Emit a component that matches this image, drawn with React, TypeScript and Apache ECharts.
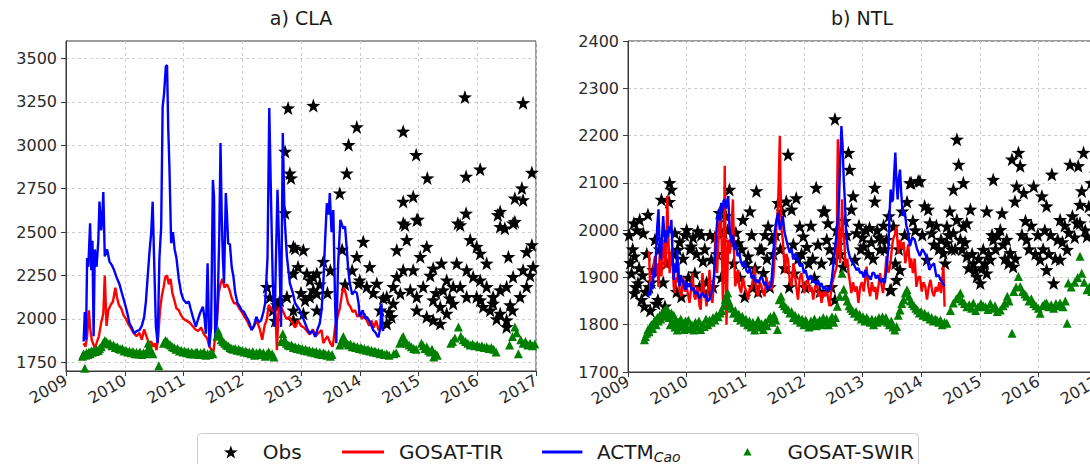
import React, { useEffect, useRef } from 'react';
import * as echarts from 'echarts';

const xTicks = [2009, 2010, 2011, 2012, 2013, 2014, 2015, 2016, 2017];
const claYTicks = [1750, 2000, 2250, 2500, 2750, 3000, 3250, 3500];
const ntlYTicks = [1700, 1800, 1900, 2000, 2100, 2200, 2300, 2400];
const panelTitles = ['a) CLA', 'b) NTL'];
const seriesNames = ['Obs', 'GOSAT-TIR', 'ACTM_Cao', 'GOSAT-SWIR'];

type P = [number, number];

const claObs: P[] = [
  [2012.42, 2185], [2012.47, 2125], [2012.52, 2050], [2012.56, 1990], [2012.59, 2080], [2012.64, 2108], [2012.73, 2964], [2012.73, 2610],
  [2012.76, 2127], [2012.78, 3214], [2012.81, 2839], [2012.83, 2811], [2012.87, 2416], [2012.87, 2262], [2012.87, 2050], [2012.87, 1993],
  [2012.9, 2406], [2012.95, 2300], [2013.0, 2150], [2013.04, 2397], [2013.04, 2031], [2013.07, 2108], [2013.1, 2262], [2013.15, 2127],
  [2013.15, 2223], [2013.21, 3228], [2013.21, 2243], [2013.21, 2166], [2013.27, 2262], [2013.27, 2146], [2013.27, 2050], [2013.32, 2200],
  [2013.38, 2330], [2013.45, 2150], [2013.5, 2280], [2013.66, 2724], [2013.7, 2400], [2013.75, 2200], [2013.78, 2839], [2013.81, 3003],
  [2013.87, 2280], [2013.95, 3105], [2013.95, 2358], [2013.98, 2204], [2014.0, 2223], [2014.06, 2445], [2014.12, 2185], [2014.17, 2300],
  [2014.23, 2150], [2014.29, 2204], [2014.35, 2050], [2014.4, 2120], [2014.46, 2127], [2014.46, 1973], [2014.5, 2040], [2014.54, 2012],
  [2014.57, 2185], [2014.57, 2089], [2014.63, 2397], [2014.63, 2243], [2014.69, 2146], [2014.74, 3080], [2014.74, 2676], [2014.74, 2551],
  [2014.74, 2281], [2014.77, 2541], [2014.8, 2455], [2014.86, 2166], [2014.91, 2705], [2014.91, 2281], [2014.96, 2945], [2014.97, 2570],
  [2014.99, 2573], [2014.97, 2127], [2014.97, 2050], [2015.03, 2358], [2015.08, 2185], [2015.14, 2416], [2015.14, 2012], [2015.15, 2811],
  [2015.2, 2250], [2015.25, 2291], [2015.25, 2108], [2015.25, 1993], [2015.3, 2150], [2015.37, 2070], [2015.37, 1973], [2015.39, 2320],
  [2015.42, 2166], [2015.48, 2223], [2015.48, 2031], [2015.53, 2120], [2015.59, 2185], [2015.59, 2089], [2015.65, 2320], [2015.67, 2551],
  [2015.71, 2541], [2015.71, 2185], [2015.79, 3277], [2015.81, 2820], [2015.81, 2608], [2015.82, 2281], [2015.82, 2127], [2015.88, 2455],
  [2015.93, 2243], [2015.99, 2416], [2015.99, 2127], [2016.05, 2862], [2016.05, 2377], [2016.05, 2223], [2016.05, 2108], [2016.1, 2070],
  [2016.16, 2320], [2016.16, 2185], [2016.22, 2050], [2016.27, 2089], [2016.27, 2127], [2016.33, 2000], [2016.35, 2599], [2016.39, 2618],
  [2016.39, 2531], [2016.39, 2166], [2016.39, 2031], [2016.47, 2522], [2016.5, 2185], [2016.5, 1993], [2016.5, 1954], [2016.53, 2358],
  [2016.56, 2080], [2016.6, 2050], [2016.61, 2551], [2016.61, 2243], [2016.64, 2695], [2016.64, 2560], [2016.73, 2127], [2016.76, 2753],
  [2016.78, 3244], [2016.78, 2685], [2016.78, 2281], [2016.84, 2387], [2016.84, 2185], [2016.9, 2250], [2016.93, 2843], [2016.93, 2426],
  [2016.95, 2300]
];

const claTir: P[] = [
  [2009.3, 1860], [2009.33, 1840], [2009.36, 1900], [2009.39, 2050], [2009.41, 1950], [2009.44, 1877], [2009.47, 1850], [2009.5, 1838],
  [2009.53, 1870], [2009.56, 1900], [2009.6, 1980], [2009.635, 2030], [2009.66, 2250], [2009.69, 1960], [2009.72, 2050], [2009.76, 2080],
  [2009.8, 2100], [2009.84, 2180], [2009.87, 2120], [2009.9, 2080], [2009.94, 2060], [2009.98, 2020], [2010.02, 2000], [2010.06, 1970],
  [2010.1, 1950], [2010.15, 1920], [2010.2, 1900], [2010.25, 1920], [2010.29, 1880], [2010.33, 1940], [2010.37, 1900], [2010.41, 1860],
  [2010.45, 1870], [2010.48, 1840], [2010.51, 1860], [2010.54, 1820], [2010.57, 1900], [2010.6, 2050], [2010.63, 2130], [2010.66, 2180],
  [2010.69, 2240], [2010.72, 2250], [2010.75, 2200], [2010.78, 2230], [2010.81, 2150], [2010.85, 2100], [2010.88, 2060], [2010.92, 2050],
  [2010.96, 2020], [2011.0, 2000], [2011.05, 1990], [2011.1, 1980], [2011.15, 1960], [2011.2, 1940], [2011.25, 1930], [2011.3, 1950],
  [2011.35, 1910], [2011.4, 1890], [2011.44, 1840], [2011.48, 1820], [2011.51, 1810], [2011.54, 1900], [2011.57, 2000], [2011.6, 2150],
  [2011.63, 2200], [2011.66, 2230], [2011.7, 2180], [2011.74, 2200], [2011.78, 2170], [2011.82, 2120], [2011.86, 2090], [2011.9, 2090],
  [2011.95, 2060], [2011.99, 2040], [2012.04, 2010], [2012.08, 1990], [2012.12, 1960], [2012.16, 1940], [2012.2, 1960], [2012.25, 1990],
  [2012.3, 1940], [2012.34, 1880], [2012.38, 1960], [2012.42, 2000], [2012.45, 2080], [2012.49, 2060], [2012.53, 2040], [2012.56, 2080],
  [2012.59, 1820], [2012.62, 2060], [2012.66, 2070], [2012.7, 2040], [2012.75, 2000], [2012.8, 2010], [2012.85, 1980], [2012.9, 1950],
  [2012.95, 1990], [2013.0, 1960], [2013.05, 1950], [2013.1, 1930], [2013.15, 1910], [2013.2, 1940], [2013.25, 1900], [2013.3, 1920],
  [2013.35, 1935], [2013.38, 1860], [2013.41, 1880], [2013.45, 1900], [2013.5, 1860], [2013.54, 1840], [2013.58, 1950], [2013.62, 2010],
  [2013.66, 2060], [2013.7, 2150], [2013.73, 2180], [2013.76, 2150], [2013.8, 2090], [2013.84, 2070], [2013.88, 2040], [2013.92, 2050],
  [2013.96, 2012], [2014.0, 2030], [2014.04, 2000], [2014.08, 2030], [2014.12, 1990], [2014.16, 1960], [2014.2, 1990], [2014.24, 1950],
  [2014.28, 1990], [2014.32, 1935], [2014.36, 1960], [2014.4, 1930]
];

const claActm: P[] = [
  [2009.3, 1870], [2009.32, 2040], [2009.34, 1880], [2009.36, 2350], [2009.38, 2300], [2009.41, 2550], [2009.43, 2280], [2009.45, 2450],
  [2009.47, 1900], [2009.49, 2400], [2009.52, 2300], [2009.55, 2450], [2009.57, 2675], [2009.6, 2510], [2009.62, 2600], [2009.635, 2730],
  [2009.66, 2360], [2009.7, 2400], [2009.74, 2330], [2009.78, 2310], [2009.82, 2280], [2009.86, 2240], [2009.91, 2200], [2009.95, 2150],
  [2010.0, 2090], [2010.04, 2040], [2010.08, 1975], [2010.12, 1950], [2010.16, 1915], [2010.2, 1930], [2010.25, 1935], [2010.29, 1960],
  [2010.33, 2010], [2010.36, 2100], [2010.39, 2240], [2010.42, 2380], [2010.45, 2495], [2010.475, 2675], [2010.5, 2340], [2010.53, 1955],
  [2010.56, 1860], [2010.59, 2350], [2010.62, 2530], [2010.645, 3220], [2010.67, 3300], [2010.7, 3455], [2010.72, 3460], [2010.74, 3100],
  [2010.76, 2880], [2010.79, 2435], [2010.82, 2500], [2010.85, 2400], [2010.88, 2350], [2010.92, 2230], [2010.96, 2150], [2011.0, 2110],
  [2011.05, 2090], [2011.09, 2100], [2011.12, 2060], [2011.16, 2010], [2011.21, 1955], [2011.25, 2000], [2011.28, 2032], [2011.33, 2070],
  [2011.36, 2000], [2011.38, 1915], [2011.41, 2320], [2011.44, 1840], [2011.47, 1950], [2011.5, 2800], [2011.52, 2700], [2011.54, 1877],
  [2011.57, 2000], [2011.59, 2206], [2011.61, 2500], [2011.63, 3012], [2011.65, 2600], [2011.67, 2353], [2011.69, 2206], [2011.72, 2724],
  [2011.74, 2600], [2011.76, 2435], [2011.79, 2430], [2011.82, 2300], [2011.85, 2243], [2011.88, 2150], [2011.92, 2090], [2011.96, 2070],
  [2011.99, 2050], [2012.03, 2040], [2012.07, 2012], [2012.11, 1990], [2012.16, 1935], [2012.2, 1960], [2012.24, 2012], [2012.28, 1980],
  [2012.32, 1990], [2012.36, 2040], [2012.39, 2090], [2012.43, 2353], [2012.46, 3214], [2012.49, 2685], [2012.52, 2206], [2012.55, 1954],
  [2012.57, 2300], [2012.6, 2743], [2012.63, 2400], [2012.66, 1954], [2012.69, 3070], [2012.72, 2589], [2012.76, 2358], [2012.81, 2206],
  [2012.86, 2150], [2012.9, 2090], [2012.94, 2070], [2012.98, 2050], [2013.03, 2010], [2013.07, 1975], [2013.11, 1940], [2013.15, 1917],
  [2013.2, 1930], [2013.24, 1897], [2013.28, 1940], [2013.32, 1975], [2013.35, 2050], [2013.38, 2206], [2013.41, 2450], [2013.44, 2666],
  [2013.47, 2600], [2013.49, 2724], [2013.52, 2500], [2013.55, 2627], [2013.58, 2100], [2013.6, 1860], [2013.63, 2300], [2013.67, 2570],
  [2013.7, 2540], [2013.72, 2520], [2013.75, 2531], [2013.78, 2400], [2013.8, 2300], [2013.83, 2206], [2013.87, 2140], [2013.91, 2160],
  [2013.95, 2150], [2013.98, 2090], [2014.0, 2012], [2014.05, 2050], [2014.09, 2000], [2014.12, 2012], [2014.16, 1990], [2014.2, 1960],
  [2014.23, 1935], [2014.27, 1920], [2014.3, 1900], [2014.32, 1896], [2014.35, 1950], [2014.37, 2089], [2014.39, 1950], [2014.4, 1930]
];

const claSwir: P[] = [
  [2009.28, 1785], [2009.3, 1800], [2009.32, 1716], [2009.33, 1790], [2009.35, 1805], [2009.37, 1795], [2009.39, 1810], [2009.41, 1800],
  [2009.43, 1815], [2009.45, 1808], [2009.47, 1820], [2009.5, 1812], [2009.52, 1825], [2009.55, 1818], [2009.57, 1830], [2009.6, 1840],
  [2009.63, 1860], [2009.66, 1875], [2009.69, 1868], [2009.72, 1855], [2009.75, 1860], [2009.78, 1845], [2009.81, 1850], [2009.84, 1835],
  [2009.87, 1840], [2009.9, 1830], [2009.93, 1825], [2009.96, 1830], [2009.99, 1815], [2010.02, 1820], [2010.05, 1810], [2010.08, 1815],
  [2010.11, 1805], [2010.14, 1812], [2010.17, 1800], [2010.2, 1808], [2010.23, 1798], [2010.26, 1810], [2010.29, 1795], [2010.32, 1805],
  [2010.35, 1800], [2010.38, 1815], [2010.4, 1860], [2010.42, 1840], [2010.45, 1810], [2010.48, 1800], [2010.58, 1730], [2010.66, 1860],
  [2010.69, 1875], [2010.72, 1870], [2010.75, 1855], [2010.78, 1850], [2010.81, 1840], [2010.84, 1835], [2010.87, 1825], [2010.9, 1830],
  [2010.93, 1815], [2010.96, 1820], [2010.99, 1810], [2011.02, 1815], [2011.05, 1805], [2011.08, 1812], [2011.11, 1800], [2011.14, 1810],
  [2011.17, 1798], [2011.2, 1805], [2011.23, 1810], [2011.26, 1795], [2011.29, 1805], [2011.32, 1800], [2011.35, 1810], [2011.38, 1790],
  [2011.41, 1800], [2011.44, 1795], [2011.47, 1805], [2011.5, 1800], [2011.57, 1900], [2011.59, 1930], [2011.61, 1910], [2011.64, 1880],
  [2011.67, 1870], [2011.7, 1860], [2011.73, 1850], [2011.76, 1845], [2011.79, 1835], [2011.82, 1830], [2011.85, 1825], [2011.88, 1830],
  [2011.91, 1820], [2011.94, 1825], [2011.97, 1815], [2012.0, 1820], [2012.03, 1810], [2012.06, 1815], [2012.09, 1805], [2012.12, 1810],
  [2012.15, 1800], [2012.18, 1812], [2012.21, 1790], [2012.24, 1805], [2012.27, 1800], [2012.3, 1810], [2012.33, 1795], [2012.36, 1805],
  [2012.39, 1785], [2012.42, 1800], [2012.45, 1810], [2012.48, 1790], [2012.51, 1800], [2012.54, 1780], [2012.66, 1870], [2012.69, 1915],
  [2012.72, 1880], [2012.75, 1860], [2012.78, 1850], [2012.81, 1845], [2012.84, 1850], [2012.87, 1835], [2012.9, 1840], [2012.93, 1830],
  [2012.96, 1835], [2012.99, 1825], [2013.02, 1830], [2013.05, 1820], [2013.08, 1825], [2013.11, 1815], [2013.14, 1820], [2013.17, 1810],
  [2013.2, 1815], [2013.23, 1805], [2013.26, 1812], [2013.29, 1800], [2013.32, 1808], [2013.35, 1795], [2013.38, 1805], [2013.41, 1800],
  [2013.44, 1790], [2013.47, 1800], [2013.5, 1785], [2013.53, 1795], [2013.66, 1850], [2013.7, 1880], [2013.72, 1898], [2013.75, 1870],
  [2013.78, 1860], [2013.81, 1850], [2013.84, 1855], [2013.87, 1840], [2013.9, 1845], [2013.93, 1835], [2013.96, 1840], [2013.99, 1830],
  [2014.02, 1835], [2014.05, 1825], [2014.08, 1830], [2014.11, 1820], [2014.14, 1825], [2014.17, 1815], [2014.2, 1820], [2014.23, 1810],
  [2014.26, 1815], [2014.29, 1805], [2014.32, 1810], [2014.35, 1800], [2014.38, 1805], [2014.42, 1795], [2014.46, 1800], [2014.5, 1790],
  [2014.58, 1800], [2014.62, 1805], [2014.68, 1860], [2014.72, 1890], [2014.74, 1898], [2014.77, 1870], [2014.8, 1860], [2014.84, 1850],
  [2014.88, 1840], [2014.92, 1830], [2014.96, 1825], [2015.05, 1860], [2015.08, 1845], [2015.11, 1830], [2015.14, 1840], [2015.17, 1820],
  [2015.2, 1810], [2015.23, 1825], [2015.26, 1780], [2015.29, 1800], [2015.32, 1790], [2015.55, 1860], [2015.58, 1870], [2015.62, 1890],
  [2015.68, 1953], [2015.72, 1900], [2015.76, 1880], [2015.8, 1870], [2015.84, 1860], [2015.88, 1850], [2015.92, 1855], [2015.96, 1845],
  [2016.0, 1850], [2016.04, 1840], [2016.08, 1845], [2016.12, 1835], [2016.16, 1840], [2016.2, 1830], [2016.24, 1835], [2016.28, 1825],
  [2016.32, 1810], [2016.55, 1850], [2016.6, 1898], [2016.64, 1953], [2016.67, 1920], [2016.7, 1800], [2016.74, 1880], [2016.78, 1860],
  [2016.82, 1870], [2016.86, 1850], [2016.9, 1860], [2016.94, 1845], [2016.98, 1855]
];

const ntlObs: P[] = [
  [2009.02, 1990], [2009.04, 1931], [2009.06, 1909], [2009.08, 1960], [2009.1, 2015], [2009.11, 1945], [2009.11, 1867], [2009.13, 1880],
  [2009.15, 2000], [2009.17, 1888], [2009.19, 1920], [2009.2, 2022], [2009.23, 1853], [2009.25, 1905], [2009.26, 1994], [2009.28, 1839],
  [2009.3, 1870], [2009.32, 1950], [2009.34, 2033], [2009.36, 1880], [2009.38, 1830], [2009.4, 1890], [2009.43, 1916], [2009.46, 1980],
  [2009.48, 1845], [2009.51, 1853], [2009.54, 1960], [2009.57, 2065], [2009.6, 1890], [2009.63, 1839], [2009.66, 1930], [2009.7, 2060],
  [2009.71, 2100], [2009.74, 2086], [2009.77, 1950], [2009.8, 1994], [2009.83, 1870], [2009.85, 1959], [2009.88, 1975], [2009.91, 1860],
  [2009.94, 1940], [2009.97, 1990], [2010.0, 2001], [2010.03, 1900], [2010.06, 1960], [2010.08, 1966], [2010.11, 1985], [2010.14, 1909],
  [2010.17, 1950], [2010.19, 1998], [2010.22, 1880], [2010.25, 1990], [2010.28, 1935], [2010.31, 1960], [2010.34, 1890], [2010.37, 1870],
  [2010.4, 1990], [2010.42, 1938], [2010.45, 1880], [2010.48, 1985], [2010.52, 1950], [2010.56, 2037], [2010.59, 1900], [2010.63, 1995],
  [2010.67, 2030], [2010.7, 2000], [2010.73, 2086], [2010.76, 1975], [2010.8, 1930], [2010.84, 1995], [2010.88, 1973], [2010.91, 1900],
  [2010.94, 1960], [2010.96, 2022], [2010.99, 1860], [2011.02, 1930], [2011.05, 1945], [2011.08, 2040], [2011.11, 1990], [2011.14, 1880],
  [2011.17, 1920], [2011.19, 2083], [2011.22, 1870], [2011.25, 1960], [2011.28, 1959], [2011.31, 1910], [2011.34, 1990], [2011.37, 1940],
  [2011.39, 2008], [2011.42, 1880], [2011.45, 1980], [2011.48, 1950], [2011.52, 1990], [2011.56, 2058], [2011.6, 1960], [2011.63, 2040],
  [2011.67, 1920], [2011.7, 2061], [2011.73, 2160], [2011.75, 1880], [2011.79, 2044], [2011.82, 1970], [2011.84, 1909], [2011.87, 2068],
  [2011.9, 1940], [2011.93, 2008], [2011.96, 1950], [2011.99, 1987], [2012.02, 1880], [2012.05, 1965], [2012.08, 1930], [2012.12, 2010],
  [2012.15, 1940], [2012.18, 1900], [2012.21, 2090], [2012.24, 1970], [2012.27, 1870], [2012.3, 1930], [2012.33, 2040], [2012.36, 2040],
  [2012.39, 1980], [2012.41, 2015], [2012.44, 1960], [2012.47, 1880], [2012.5, 1938], [2012.53, 1853], [2012.53, 2235], [2012.56, 2000],
  [2012.59, 1970], [2012.62, 1950], [2012.67, 1923], [2012.7, 2020], [2012.73, 1990], [2012.76, 2164], [2012.78, 2128], [2012.81, 2044],
  [2012.84, 2072], [2012.87, 1938], [2012.9, 1994], [2012.94, 2010], [2012.97, 1960], [2013.0, 1985], [2013.02, 1966], [2013.06, 2000],
  [2013.1, 1950], [2013.12, 2005], [2013.15, 1975], [2013.18, 1940], [2013.21, 2090], [2013.21, 2061], [2013.25, 2000], [2013.28, 1985],
  [2013.3, 1959], [2013.32, 1980], [2013.36, 2010], [2013.38, 1960], [2013.41, 1980], [2013.45, 2030], [2013.47, 1874], [2013.49, 1874],
  [2013.53, 2008], [2013.56, 1930], [2013.58, 1895], [2013.62, 1960], [2013.64, 1916], [2013.68, 2040], [2013.72, 1990], [2013.76, 2060],
  [2013.81, 2100], [2013.83, 2100], [2013.86, 2020], [2013.9, 2000], [2013.95, 2104], [2013.98, 2104], [2014.02, 1990], [2014.06, 2051],
  [2014.1, 1938], [2014.12, 2044], [2014.15, 2015], [2014.18, 1994], [2014.22, 1970], [2014.26, 2010], [2014.3, 1960], [2014.34, 1980],
  [2014.38, 1952], [2014.41, 1930], [2014.44, 1973], [2014.44, 2008], [2014.47, 1990], [2014.49, 2040], [2014.52, 1960], [2014.55, 2086],
  [2014.55, 1994], [2014.58, 1960], [2014.61, 2192], [2014.61, 2022], [2014.64, 2139], [2014.67, 1980], [2014.7, 1960], [2014.72, 2100],
  [2014.72, 2008], [2014.75, 1975], [2014.78, 2015], [2014.78, 1945], [2014.81, 1920], [2014.84, 2044], [2014.87, 1950], [2014.89, 1930],
  [2014.92, 1915], [2014.95, 1902], [2014.98, 1940], [2015.01, 1888], [2015.04, 1920], [2015.06, 1959], [2015.09, 1930], [2015.12, 2040],
  [2015.12, 1909], [2015.15, 1950], [2015.18, 1938], [2015.21, 1990], [2015.23, 2107], [2015.23, 1980], [2015.27, 1960], [2015.3, 1990],
  [2015.35, 2001], [2015.38, 2036], [2015.4, 1970], [2015.43, 1940], [2015.46, 1980], [2015.49, 1930], [2015.52, 1952], [2015.55, 2150],
  [2015.57, 1923], [2015.6, 2061], [2015.61, 1940], [2015.63, 2093], [2015.66, 2164], [2015.69, 2136], [2015.72, 1990], [2015.75, 2079],
  [2015.78, 2020], [2015.8, 1980], [2015.84, 1960], [2015.88, 2010], [2015.92, 2093], [2015.95, 1950], [2015.99, 1990], [2016.03, 1938],
  [2016.06, 2072], [2016.08, 1960], [2016.11, 2000], [2016.14, 2051], [2016.14, 1916], [2016.18, 1950], [2016.21, 1990], [2016.23, 2118],
  [2016.26, 1888], [2016.29, 1940], [2016.33, 1980], [2016.37, 2022], [2016.37, 1938], [2016.41, 1975], [2016.45, 2010], [2016.49, 1959],
  [2016.52, 1995], [2016.54, 2139], [2016.58, 2030], [2016.62, 1985], [2016.66, 2015], [2016.68, 2136], [2016.71, 2054], [2016.71, 2015],
  [2016.74, 2083], [2016.77, 2164], [2016.8, 2000], [2016.83, 1987], [2016.86, 2050], [2016.9, 2100], [2016.94, 2030], [2016.98, 2120]
];

const ntlTir: P[] = [
  [2009.34, 1955], [2009.36, 1952], [2009.38, 1867], [2009.4, 1900], [2009.42, 1880], [2009.44, 1930], [2009.46, 1945], [2009.48, 1909],
  [2009.5, 1930], [2009.52, 1880], [2009.54, 1950], [2009.57, 1902], [2009.6, 1960], [2009.62, 1980], [2009.64, 1920], [2009.66, 2000],
  [2009.67, 2072], [2009.69, 1980], [2009.71, 1909], [2009.73, 1940], [2009.75, 1960], [2009.78, 1880], [2009.8, 1867], [2009.82, 1900],
  [2009.84, 1890], [2009.86, 1930], [2009.88, 1870], [2009.91, 1860], [2009.94, 1900], [2009.97, 1870], [2010.0, 1880], [2010.03, 1860],
  [2010.05, 1846], [2010.08, 1880], [2010.1, 1909], [2010.13, 1860], [2010.15, 1853], [2010.18, 1880], [2010.2, 1870], [2010.22, 1840],
  [2010.24, 1832], [2010.27, 1909], [2010.3, 1870], [2010.32, 1860], [2010.34, 1839], [2010.37, 1880], [2010.39, 1916], [2010.42, 1860],
  [2010.44, 1846], [2010.47, 1900], [2010.49, 1994], [2010.52, 1909], [2010.55, 2000], [2010.58, 2051], [2010.6, 1960], [2010.62, 1839],
  [2010.64, 2000], [2010.65, 2136], [2010.67, 1900], [2010.68, 1800], [2010.7, 1930], [2010.71, 1980], [2010.73, 1950], [2010.75, 1960],
  [2010.77, 2020], [2010.79, 2065], [2010.81, 1950], [2010.83, 1881], [2010.86, 1910], [2010.88, 1916], [2010.9, 1880], [2010.93, 1867],
  [2010.96, 1900], [2010.99, 1880], [2011.02, 1870], [2011.05, 1853], [2011.08, 1880], [2011.1, 1874], [2011.13, 1895], [2011.16, 1923],
  [2011.19, 1870], [2011.22, 1860], [2011.25, 1890], [2011.28, 1880], [2011.3, 1870], [2011.33, 1860], [2011.36, 1900], [2011.39, 1880],
  [2011.42, 1890], [2011.45, 1874], [2011.48, 1900], [2011.5, 1945], [2011.52, 1980], [2011.54, 2022], [2011.56, 2050], [2011.58, 2150],
  [2011.59, 2199], [2011.6, 2100], [2011.62, 2000], [2011.64, 1980], [2011.66, 1940], [2011.68, 1909], [2011.7, 1950], [2011.73, 1938],
  [2011.76, 1890], [2011.79, 1881], [2011.82, 1930], [2011.84, 1916], [2011.87, 1880], [2011.9, 1853], [2011.93, 1900], [2011.96, 1909],
  [2011.99, 1880], [2012.01, 1867], [2012.04, 1890], [2012.07, 1895], [2012.1, 1870], [2012.13, 1880], [2012.16, 1853], [2012.19, 1880],
  [2012.22, 1888], [2012.25, 1860], [2012.28, 1870], [2012.3, 1846], [2012.33, 1870], [2012.36, 1860], [2012.39, 1875], [2012.42, 1850],
  [2012.44, 1839], [2012.47, 1880], [2012.5, 1895], [2012.53, 1910], [2012.56, 1923], [2012.57, 2100], [2012.58, 2192], [2012.6, 1960],
  [2012.62, 1930], [2012.64, 2000], [2012.65, 2065], [2012.67, 1990], [2012.69, 1980], [2012.71, 1923], [2012.74, 1940], [2012.76, 1910],
  [2012.78, 1895], [2012.81, 1867], [2012.84, 1890], [2012.87, 1870], [2012.9, 1881], [2012.93, 1846], [2012.96, 1880], [2012.99, 1890],
  [2013.02, 1870], [2013.05, 1900], [2013.07, 1923], [2013.1, 1880], [2013.13, 1860], [2013.16, 1890], [2013.19, 1870], [2013.22, 1880],
  [2013.24, 1853], [2013.27, 1880], [2013.3, 1909], [2013.33, 1880], [2013.35, 1867], [2013.38, 1900], [2013.41, 1945], [2013.44, 1910],
  [2013.47, 1923], [2013.5, 1960], [2013.52, 1980], [2013.55, 1990], [2013.58, 2008], [2013.61, 1950], [2013.64, 1980], [2013.67, 1960],
  [2013.7, 1975], [2013.73, 1930], [2013.75, 1945], [2013.78, 1970], [2013.81, 1920], [2013.83, 1940], [2013.86, 1909], [2013.89, 1940],
  [2013.92, 1880], [2013.95, 1900], [2013.98, 1902], [2014.01, 1870], [2014.04, 1890], [2014.07, 1881], [2014.1, 1853], [2014.13, 1880],
  [2014.16, 1895], [2014.19, 1870], [2014.22, 1860], [2014.25, 1880], [2014.28, 1870], [2014.31, 1890], [2014.34, 1867], [2014.37, 1910],
  [2014.38, 1923], [2014.4, 1838]
];

const ntlActm: P[] = [
  [2009.34, 1858], [2009.36, 1870], [2009.38, 1862], [2009.4, 1890], [2009.42, 1875], [2009.44, 1920], [2009.46, 1900], [2009.48, 1960],
  [2009.5, 2010], [2009.52, 2044], [2009.54, 1960], [2009.56, 1938], [2009.58, 1985], [2009.6, 2030], [2009.62, 1990], [2009.64, 1973],
  [2009.66, 2000], [2009.68, 1985], [2009.7, 2008], [2009.72, 1995], [2009.74, 2022], [2009.76, 1950], [2009.78, 1895], [2009.8, 1930],
  [2009.82, 1910], [2009.84, 1959], [2009.86, 1900], [2009.88, 1881], [2009.9, 1905], [2009.92, 1890], [2009.94, 1895], [2009.96, 1880],
  [2009.98, 1874], [2010.0, 1890], [2010.03, 1880], [2010.06, 1888], [2010.09, 1872], [2010.12, 1878], [2010.15, 1865], [2010.18, 1870],
  [2010.21, 1855], [2010.24, 1862], [2010.27, 1868], [2010.3, 1858], [2010.33, 1864], [2010.36, 1850], [2010.39, 1853], [2010.42, 1866],
  [2010.45, 1881], [2010.47, 1910], [2010.49, 1952], [2010.51, 2000], [2010.53, 2030], [2010.55, 2044], [2010.57, 2020], [2010.59, 2058],
  [2010.61, 2040], [2010.63, 2062], [2010.65, 2065], [2010.67, 2045], [2010.69, 2060], [2010.71, 2072], [2010.73, 2008], [2010.75, 1985],
  [2010.77, 1973], [2010.79, 1990], [2010.81, 1959], [2010.84, 1970], [2010.87, 1945], [2010.9, 1950], [2010.93, 1932], [2010.96, 1923],
  [2010.99, 1935], [2011.02, 1915], [2011.05, 1909], [2011.08, 1920], [2011.11, 1898], [2011.14, 1905], [2011.17, 1890], [2011.2, 1895],
  [2011.23, 1888], [2011.26, 1900], [2011.29, 1899], [2011.32, 1885], [2011.35, 1890], [2011.38, 1874], [2011.41, 1880], [2011.44, 1881],
  [2011.47, 1930], [2011.5, 1994], [2011.53, 2020], [2011.56, 2037], [2011.59, 2001], [2011.62, 2015], [2011.64, 2030], [2011.67, 1995],
  [2011.7, 1980], [2011.73, 1965], [2011.76, 1952], [2011.79, 1960], [2011.82, 1938], [2011.85, 1950], [2011.88, 1945], [2011.91, 1930],
  [2011.94, 1923], [2011.97, 1930], [2012.0, 1909], [2012.03, 1915], [2012.06, 1900], [2012.09, 1895], [2012.12, 1905], [2012.15, 1890],
  [2012.18, 1892], [2012.21, 1885], [2012.24, 1895], [2012.27, 1881], [2012.3, 1888], [2012.33, 1875], [2012.36, 1881], [2012.39, 1870],
  [2012.42, 1880], [2012.45, 1874], [2012.48, 1900], [2012.5, 1923], [2012.53, 1960], [2012.56, 1994], [2012.58, 2030], [2012.6, 2065],
  [2012.62, 2150], [2012.64, 2220], [2012.66, 2180], [2012.68, 2107], [2012.7, 2060], [2012.72, 1994], [2012.75, 1960], [2012.78, 1945],
  [2012.81, 1935], [2012.84, 1930], [2012.87, 1923], [2012.9, 1915], [2012.93, 1920], [2012.96, 1909], [2012.99, 1912], [2013.02, 1900],
  [2013.05, 1916], [2013.08, 1905], [2013.11, 1902], [2013.14, 1895], [2013.17, 1910], [2013.2, 1909], [2013.23, 1898], [2013.26, 1905],
  [2013.29, 1895], [2013.32, 1890], [2013.35, 1898], [2013.38, 1888], [2013.41, 1920], [2013.44, 1959], [2013.46, 2030], [2013.48, 2086],
  [2013.5, 2060], [2013.52, 2065], [2013.54, 2120], [2013.56, 2164], [2013.58, 2100], [2013.6, 2065], [2013.62, 2110], [2013.64, 2128],
  [2013.66, 2080], [2013.69, 2030], [2013.72, 2040], [2013.75, 2008], [2013.78, 1995], [2013.81, 1966], [2013.85, 1985], [2013.89, 1980],
  [2013.93, 1960], [2013.98, 1945], [2014.02, 1960], [2014.06, 1952], [2014.1, 1940], [2014.14, 1916], [2014.18, 1925], [2014.22, 1930],
  [2014.26, 1902], [2014.3, 1905], [2014.33, 1895], [2014.36, 1890], [2014.4, 1881]
];

const ntlSwir: P[] = [
  [2009.28, 1768], [2009.3, 1775], [2009.32, 1782], [2009.34, 1790], [2009.36, 1785], [2009.38, 1796], [2009.4, 1800], [2009.42, 1792],
  [2009.44, 1805], [2009.46, 1810], [2009.48, 1800], [2009.5, 1815], [2009.52, 1808], [2009.54, 1820], [2009.56, 1812], [2009.58, 1825],
  [2009.6, 1818], [2009.62, 1830], [2009.64, 1822], [2009.66, 1835], [2009.68, 1828], [2009.7, 1815], [2009.72, 1800], [2009.74, 1825],
  [2009.76, 1805], [2009.78, 1820], [2009.8, 1795], [2009.82, 1810], [2009.84, 1789], [2009.86, 1805], [2009.88, 1798], [2009.9, 1812],
  [2009.92, 1795], [2009.94, 1803], [2009.96, 1790], [2009.98, 1808], [2010.0, 1796], [2010.03, 1810], [2010.06, 1792], [2010.09, 1800],
  [2010.12, 1789], [2010.15, 1805], [2010.18, 1795], [2010.21, 1808], [2010.24, 1790], [2010.27, 1800], [2010.3, 1796], [2010.33, 1812],
  [2010.36, 1800], [2010.39, 1810], [2010.42, 1805], [2010.45, 1815], [2010.48, 1810], [2010.51, 1820], [2010.54, 1817], [2010.57, 1825],
  [2010.6, 1830], [2010.63, 1840], [2010.66, 1853], [2010.68, 1860], [2010.7, 1867], [2010.72, 1850], [2010.74, 1840], [2010.77, 1835],
  [2010.8, 1824], [2010.83, 1830], [2010.86, 1815], [2010.89, 1822], [2010.92, 1810], [2010.95, 1818], [2010.98, 1805], [2011.01, 1812],
  [2011.04, 1800], [2011.07, 1808], [2011.1, 1795], [2011.13, 1805], [2011.16, 1789], [2011.19, 1800], [2011.22, 1810], [2011.25, 1795],
  [2011.28, 1802], [2011.31, 1790], [2011.34, 1805], [2011.37, 1798], [2011.4, 1812], [2011.43, 1817], [2011.46, 1805], [2011.49, 1820],
  [2011.52, 1810], [2011.55, 1790], [2011.58, 1853], [2011.61, 1860], [2011.64, 1845], [2011.67, 1840], [2011.7, 1835], [2011.73, 1832],
  [2011.76, 1825], [2011.79, 1828], [2011.82, 1815], [2011.85, 1820], [2011.88, 1810], [2011.91, 1815], [2011.94, 1805], [2011.97, 1812],
  [2012.0, 1800], [2012.03, 1810], [2012.06, 1803], [2012.09, 1795], [2012.12, 1808], [2012.15, 1800], [2012.18, 1812], [2012.21, 1798],
  [2012.24, 1805], [2012.27, 1810], [2012.3, 1800], [2012.33, 1815], [2012.36, 1805], [2012.39, 1812], [2012.42, 1800], [2012.45, 1810],
  [2012.48, 1817], [2012.51, 1805], [2012.54, 1815], [2012.57, 1839], [2012.61, 1860], [2012.65, 1909], [2012.68, 1875], [2012.71, 1860],
  [2012.74, 1850], [2012.77, 1840], [2012.8, 1835], [2012.83, 1830], [2012.86, 1824], [2012.89, 1828], [2012.92, 1818], [2012.95, 1822],
  [2012.98, 1812], [2013.01, 1817], [2013.04, 1808], [2013.07, 1815], [2013.1, 1810], [2013.13, 1805], [2013.16, 1812], [2013.19, 1800],
  [2013.22, 1810], [2013.25, 1805], [2013.28, 1815], [2013.31, 1808], [2013.34, 1817], [2013.37, 1810], [2013.4, 1815], [2013.43, 1805],
  [2013.46, 1800], [2013.49, 1808], [2013.52, 1795], [2013.55, 1789], [2013.58, 1796], [2013.61, 1820], [2013.64, 1831], [2013.67, 1845],
  [2013.7, 1853], [2013.73, 1867], [2013.76, 1874], [2013.79, 1860], [2013.82, 1850], [2013.85, 1845], [2013.88, 1840], [2013.91, 1835],
  [2013.94, 1831], [2013.97, 1825], [2014.0, 1828], [2014.03, 1820], [2014.06, 1824], [2014.09, 1817], [2014.12, 1820], [2014.15, 1812],
  [2014.18, 1815], [2014.21, 1808], [2014.24, 1812], [2014.27, 1810], [2014.3, 1805], [2014.33, 1810], [2014.36, 1800], [2014.4, 1805],
  [2014.44, 1803], [2014.5, 1830], [2014.55, 1846], [2014.6, 1855], [2014.64, 1860], [2014.67, 1867], [2014.7, 1850], [2014.74, 1845],
  [2014.78, 1838], [2014.82, 1842], [2014.86, 1835], [2014.89, 1846], [2014.93, 1830], [2014.97, 1838], [2015.02, 1845], [2015.06, 1840],
  [2015.1, 1838], [2015.14, 1832], [2015.18, 1845], [2015.22, 1835], [2015.26, 1840], [2015.3, 1828], [2015.35, 1831], [2015.4, 1840],
  [2015.43, 1846], [2015.47, 1860], [2015.5, 1850], [2015.55, 1782], [2015.58, 1870], [2015.62, 1880], [2015.66, 1902], [2015.69, 1881],
  [2015.73, 1870], [2015.77, 1865], [2015.8, 1860], [2015.84, 1850], [2015.88, 1855], [2015.92, 1845], [2015.96, 1840], [2016.0, 1835],
  [2016.03, 1824], [2016.07, 1840], [2016.11, 1845], [2016.14, 1846], [2016.18, 1838], [2016.22, 1842], [2016.26, 1835], [2016.3, 1845],
  [2016.34, 1840], [2016.37, 1846], [2016.42, 1838], [2016.46, 1850], [2016.49, 1803], [2016.51, 1888], [2016.56, 1880], [2016.62, 1890],
  [2016.67, 1900], [2016.71, 1945], [2016.74, 1909], [2016.78, 1890], [2016.83, 1874], [2016.87, 1880], [2016.91, 1870], [2016.95, 1865],
  [2016.99, 1870]
];

const FONT = 'DejaVu Sans';
const STAR = 'path://M0,-10L2.35,-3.24L9.51,-3.09L3.8,1.24L5.88,8.09L0,4L-5.88,8.09L-3.8,1.24L-9.51,-3.09L-2.35,-3.24Z';
const LINE_LEGEND = 'path://M0,0L42,0L42,3L0,3ZM52,0';
const TRI_LEGEND = 'path://M-6,-6M6,6M0,-3.6L3.8,3.2L-3.8,3.2Z';

function buildOption() {
  const grids = [
    { left: 66, top: 41, width: 470, height: 330 },
    { left: 628, top: 41, width: 469, height: 331 }
  ].map((g) => ({ ...g, show: true, borderColor: '#3a3a3a', borderWidth: 1, backgroundColor: 'transparent', containLabel: false, outerBoundsMode: 'none' }));

  const splitLine = { show: true, lineStyle: { color: '#cfcfcf', type: [3, 3], width: 1 } };
  const labelStyle = { fontSize: 16, color: '#2a2a2a', fontFamily: FONT };
  const plain = (v: number) => String(v);

  const xAxes = [0, 1].map((i) => ({
    type: 'value', gridIndex: i, min: xTicks[0], max: xTicks[xTicks.length - 1], interval: 1,
    axisLine: { show: true, onZero: false, lineStyle: { color: '#3a3a3a', width: 1 } },
    axisTick: { show: true, length: 5, lineStyle: { color: '#3a3a3a' } },
    axisLabel: { ...labelStyle, rotate: 30, margin: 8, showMinLabel: true, showMaxLabel: true, formatter: plain },
    splitLine
  }));

  const yAxes = [
    {
      type: 'value', gridIndex: 0, min: 1700, max: 3600,
      axisLine: { show: true, onZero: false, lineStyle: { color: '#3a3a3a', width: 1 } },
      axisTick: { show: true, length: 5, customValues: claYTicks, lineStyle: { color: '#3a3a3a' } },
      axisLabel: { ...labelStyle, margin: 9, customValues: claYTicks, formatter: plain },
      splitLine
    },
    {
      type: 'value', gridIndex: 1, min: ntlYTicks[0], max: ntlYTicks[ntlYTicks.length - 1], interval: 100,
      axisLine: { show: true, onZero: false, lineStyle: { color: '#3a3a3a', width: 1 } },
      axisTick: { show: true, length: 5, lineStyle: { color: '#3a3a3a' } },
      axisLabel: { ...labelStyle, margin: 9, formatter: plain },
      splitLine
    }
  ];

  const panels = [
    { obs: claObs, tir: claTir, actm: claActm, swir: claSwir },
    { obs: ntlObs, tir: ntlTir, actm: ntlActm, swir: ntlSwir }
  ];

  const series: any[] = [];
  panels.forEach((p, i) => {
    series.push({
      name: seriesNames[0], type: 'scatter', xAxisIndex: i, yAxisIndex: i, data: p.obs,
      symbol: STAR, symbolSize: 14, itemStyle: { color: '#000', opacity: 1 }, z: 2
    });
    series.push({
      name: seriesNames[1], type: 'line', xAxisIndex: i, yAxisIndex: i, data: p.tir,
      symbol: 'none', showSymbol: false, lineStyle: { color: '#ff0000', width: 2.4 }, itemStyle: { color: '#ff0000' }, z: 3
    });
    series.push({
      name: seriesNames[2], type: 'line', xAxisIndex: i, yAxisIndex: i, data: p.actm,
      symbol: 'none', showSymbol: false, lineStyle: { color: '#0000ff', width: 2.4 }, itemStyle: { color: '#0000ff' }, z: 4
    });
    series.push({
      name: seriesNames[3], type: 'scatter', xAxisIndex: i, yAxisIndex: i, data: p.swir,
      symbol: 'triangle', symbolSize: 9, itemStyle: { color: '#008000', opacity: 1 }, z: 5
    });
  });

  const legendText = {
    fontSize: 20, fontFamily: FONT, color: '#1a1a1a',
    rich: {
      m: { fontSize: 20, fontFamily: FONT, color: '#1a1a1a' },
      s: { fontSize: 14, fontFamily: FONT, fontStyle: 'italic', color: '#1a1a1a', padding: [9, 0, 0, 0] }
    }
  };
  // legend layout uses the visible icon's bounding box, so `left` is the icon's visible left edge
  const legendItems = [
    { name: seriesNames[0], icon: STAR, left: 224, itemWidth: 54 },
    { name: seriesNames[1], icon: LINE_LEGEND, left: 342, itemWidth: 52 },
    { name: seriesNames[2], icon: LINE_LEGEND, left: 542, itemWidth: 50 },
    { name: seriesNames[3], icon: TRI_LEGEND, left: 741, itemWidth: 70 }
  ];
  const legends = legendItems.map((it) => ({
    left: it.left, top: 442, orient: 'horizontal', padding: 0,
    itemWidth: it.itemWidth, itemHeight: 13, selectedMode: false,
    data: [{ name: it.name, icon: it.icon }],
    formatter: (name: string) => (name === 'ACTM_Cao' ? '{m|ACTM}{s|Cao}' : name),
    textStyle: legendText
  }));

  return {
    animation: false,
    backgroundColor: '#ffffff',
    grid: grids,
    xAxis: xAxes,
    yAxis: yAxes,
    graphic: [
      { type: 'rect', z: 0, shape: { x: 197.5, y: 433.5, width: 721, height: 45, r: 4 }, style: { fill: '#ffffff', stroke: '#cccccc', lineWidth: 1 } },
      { type: 'text', x: 301, y: 18, style: { text: panelTitles[0], align: 'center', verticalAlign: 'middle', fontSize: 19, fontFamily: FONT, fill: '#1a1a1a' } },
      { type: 'text', x: 862, y: 18, style: { text: panelTitles[1], align: 'center', verticalAlign: 'middle', fontSize: 19, fontFamily: FONT, fill: '#1a1a1a' } }
    ],
    legend: legends,
    series
  };
}

export default function App() {
  const ref = useRef<HTMLDivElement>(null);
  useEffect(() => {
    if (!ref.current) return;
    const chart = echarts.init(ref.current, null, { renderer: 'svg' });
    chart.setOption(buildOption() as any);
    return () => chart.dispose();
  }, []);
  return (
    <div
      ref={ref}
      style={{ position: 'absolute', left: 0, top: 0, width: 1090, height: 464, background: '#fff' }}
    />
  );
}
